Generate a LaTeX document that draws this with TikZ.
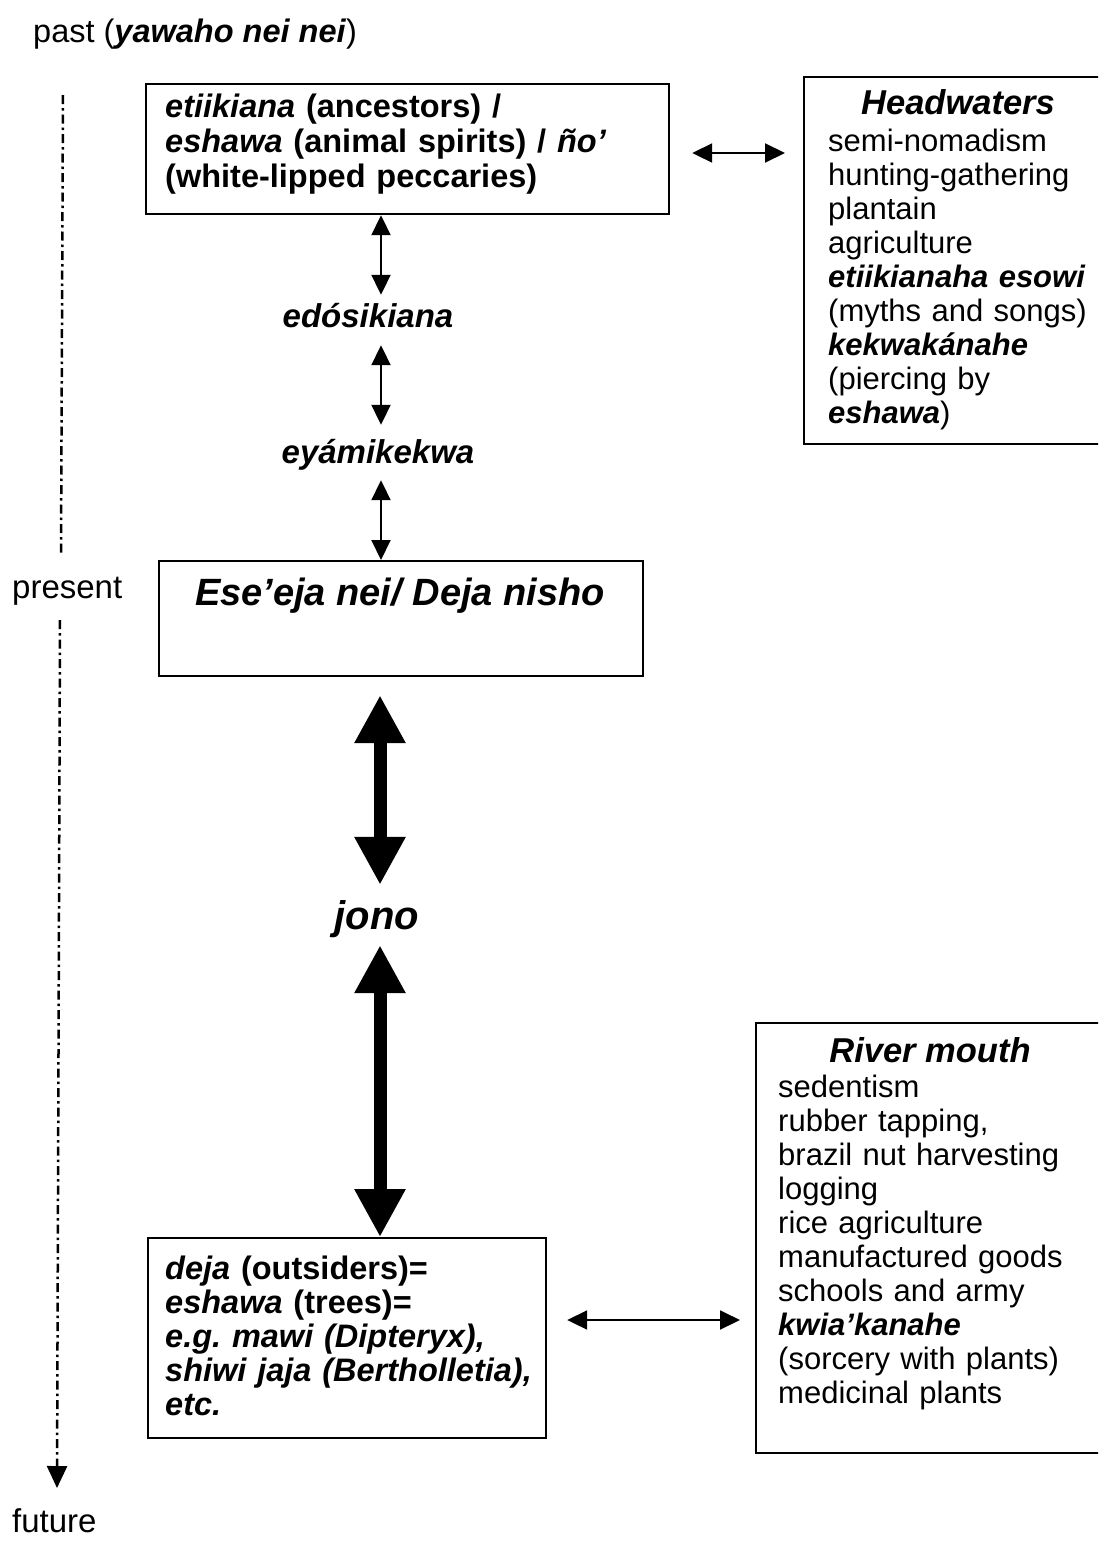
\documentclass[tikz,border=0pt]{standalone}
\usepackage{fontspec}
\setmainfont{Liberation Sans}
\usetikzlibrary{arrows.meta}
\frenchspacing
\begin{document}
\begin{tikzpicture}[x=1pt,y=-1pt,
  box/.style={draw, line width=2.2pt, inner sep=0pt, anchor=north west},
  txt/.style={inner sep=0pt, anchor=north west, align=left},
  lbl/.style={inner sep=0pt, anchor=base, font=\fontsize{33}{38}\selectfont\bfseries\itshape},
  thinarr/.style={line width=2pt, {Triangle[length=20pt,width=19pt]}-{Triangle[length=20pt,width=19pt]}},
  thickarr/.style={line width=13pt, {Triangle[length=48pt,width=48pt]}-{Triangle[length=48pt,width=48pt]}},
  timeline/.style={line width=2.5pt, dash pattern=on 9pt off 4pt on 2.5pt off 4pt},
  ]
\useasboundingbox (0,0) rectangle (1098,1553);
\clip (0,0) rectangle (1098,1553);

% time axis
\node[inner sep=0pt, anchor=base west, font=\fontsize{32.5}{38}\selectfont] (past) at (33,42) {past (\textbf{\textit{yawaho nei nei}})};
\node[inner sep=0pt, anchor=base west, font=\fontsize{33}{38}\selectfont] (present) at (12,598) {present};
\node[inner sep=0pt, anchor=base west, font=\fontsize{33}{38}\selectfont] (future) at (12,1532) {future};
\coordinate (t1) at (63,95);
\coordinate (t2) at (61,555);
\coordinate (t3) at (60,620);
\coordinate (t4) at (57,1488);
\draw[timeline] (t1) -- (t2);
\draw[timeline, -{Triangle[length=22pt,width=20pt]}] (t3) -- (t4);

% top box
\node[box, minimum width=523pt, minimum height=130pt] (anc) at (145,83) {};
\node[txt, text width=500pt, font=\fontsize{32.5}{35}\selectfont\bfseries] (anctxt) at (165,92.5)
  {\strut\textit{etiikiana} (ancestors) /\\ \textit{eshawa} (animal spirits) / \textit{ño’}\\ (white-lipped peccaries)};

% headwaters box
\node[box, minimum width=340pt, minimum height=367pt] (head) at (803,76) {};
\node[inner sep=0pt, anchor=base, font=\fontsize{34.5}{40}\selectfont\bfseries\itshape] (headtitle) at (958,114) {Headwaters};
\node[txt, text width=280pt, font=\fontsize{31}{34}\selectfont] (headlist) at (828,127.2)
  {\strut semi-nomadism\\ hunting-gathering\\ plantain\\ agriculture\\ \textbf{\textit{etiikianaha esowi}}\\ (myths and songs)\\ \textbf{\textit{kekwakánahe}}\\ (piercing by\\ \textbf{\textit{eshawa}})};

% middle labels
\node[lbl, text height=32pt, text depth=18pt] (edo) at (368,327) {edósikiana};
\node[lbl, text height=38pt, text depth=17pt] (eya) at (378,463) {eyámikekwa};

% present box
\node[box, minimum width=484pt, minimum height=115pt] (pres) at (158,560) {};
\node[inner sep=0pt, anchor=base, font=\fontsize{38}{44}\selectfont\bfseries\itshape] (prestxt) at (400,605) {Ese’eja nei/ Deja nisho};

\node[inner sep=0pt, anchor=base, font=\fontsize{40}{46}\selectfont\bfseries\itshape, text height=44pt, text depth=16pt] (jono) at (377,929) {jono};

% bottom box
\node[box, minimum width=398pt, minimum height=200pt] (low) at (147,1237) {};
\node[txt, text width=380pt, font=\fontsize{32.5}{34}\selectfont\bfseries] (lowtxt) at (165,1255.2)
  {\strut\textit{deja} (outsiders)=\\ \textit{eshawa} (trees)=\\ \textit{e.g. mawi (Dipteryx),}\\ \textit{shiwi jaja (Bertholletia),}\\ \textit{etc.}};

% river mouth box
\node[box, minimum width=360pt, minimum height=430pt] (river) at (755,1022) {};
\node[inner sep=0pt, anchor=base, font=\fontsize{34.5}{40}\selectfont\bfseries\itshape] (rivertitle) at (930,1062) {River mouth};
\node[txt, text width=320pt, font=\fontsize{31}{34}\selectfont] (riverlist) at (778,1073.2)
  {\strut sedentism\\ rubber tapping,\\ brazil nut harvesting\\ logging\\ rice agriculture\\ manufactured goods\\ schools and army\\ \textbf{\textit{kwia’kanahe}}\\ (sorcery with plants)\\ medicinal plants};

% connectors
\coordinate (ax) at (381,0);
\draw[thinarr] (anc.south -| ax) -- (edo.north -| ax);
\draw[thinarr] (edo.south -| ax) -- (eya.north -| ax);
\draw[thinarr] (eya.south -| ax) -- (pres.north -| ax);
\coordinate (bx) at (380,0);
\draw[thickarr, shorten <=18pt] (pres.south -| bx) -- (jono.north -| bx);
\draw[thickarr] (jono.south -| bx) -- (low.north -| bx);
\coordinate (hy) at (0,153);
\draw[thinarr, shorten <=22pt, shorten >=18pt] (anc.east |- hy) -- (head.west |- hy);
\coordinate (ly) at (0,1320);
\draw[thinarr, shorten <=20pt, shorten >=15pt] (low.east |- ly) -- (river.west |- ly);
\end{tikzpicture}
\end{document}
